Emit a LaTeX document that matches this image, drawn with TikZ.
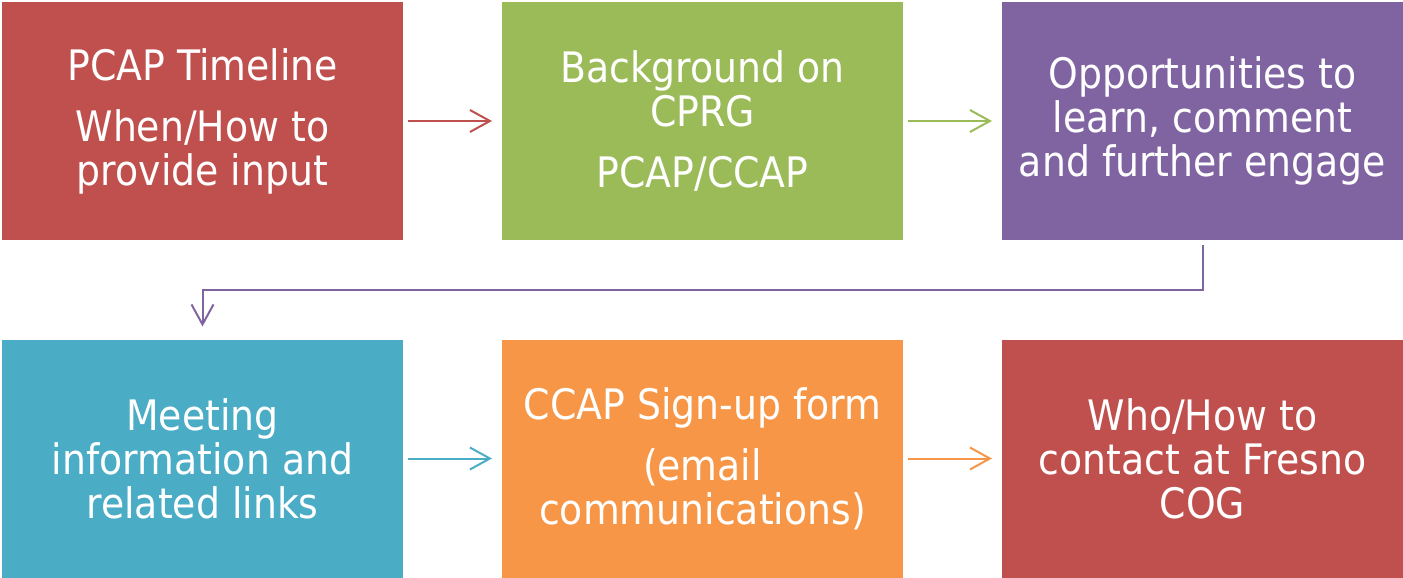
\documentclass[tikz,border=0pt]{standalone}
\usepackage{fontspec}
\setmainfont{DejaVu Sans}[FakeStretch=0.9]
\usetikzlibrary{arrows.meta}
\definecolor{cred}{HTML}{C0504D}
\definecolor{cgreen}{HTML}{9BBB59}
\definecolor{cpurple}{HTML}{8064A2}
\definecolor{cteal}{HTML}{4BACC6}
\definecolor{corange}{HTML}{F79646}
\tikzset{
  box/.style={fill=#1, draw=none, minimum width=300.75pt, minimum height=178.5pt,
    inner sep=0pt, outer sep=0pt, text=white, align=center,
    font=\fontsize{31.5pt}{33pt}\selectfont},
  flow/.style={draw=#1, line width=1.5pt,
    -{Straight Barb[length=15pt,width=16.5pt,line width=1.5pt]},
    shorten <=3.75pt, shorten >=7.5pt},
}
\begin{document}
\begin{tikzpicture}[x=0.75pt,y=-0.75pt]
\useasboundingbox (0,0) rectangle (1403,578);
\node[box=cred]    (b1) at (202.5,121) {PCAP Timeline\\[12.75pt]When/How to\\provide input};
\node[box=cgreen]  (b2) at (702.5,121) {Background on\\CPRG\\[12.75pt]PCAP/CCAP};
\node[box=cpurple] (b3) at (1202.5,121) {Opportunities to\\learn, comment\\and further engage};
\node[box=cteal]   (b4) at (202.5,458.5) {Meeting\\information and\\related links};
\node[box=corange] (b5) at (702.5,458.5) {CCAP Sign-up form\\[12.75pt](email\\communications)};
\node[box=cred]    (b6) at (1202.5,458.5) {Who/How to\\contact at Fresno\\COG};
\draw[flow=cred] (b1) -- (b2);
\draw[flow=cgreen] (b2) -- (b3);
\draw[flow=cteal] (b4) -- (b5);
\draw[flow=corange] (b5) -- (b6);
\coordinate (m) at (1202.5,290);
\draw[draw=cpurple, line width=1.5pt, shorten <=3.75pt, shorten >=9.75pt,
  -{Straight Barb[length=15pt,width=16.5pt,line width=1.5pt]}]
  (b3.south) -- (m) -| (b4.north);
\end{tikzpicture}
\end{document}
